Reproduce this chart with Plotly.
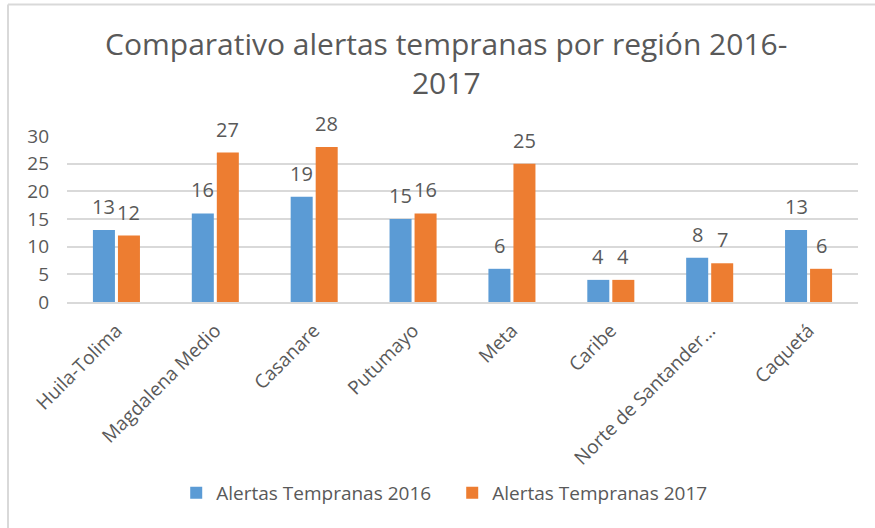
import plotly.graph_objects as go

categories = ["Huila-Tolima", "Magdalena Medio", "Casanare", "Putumayo", "Meta",
              "Caribe", "Norte de Santander…", "Caquetá"]
alertas_2016 = [13, 16, 19, 15, 6, 4, 8, 13]
alertas_2017 = [12, 27, 28, 16, 25, 4, 7, 6]
y_ticks = [0, 5, 10, 15, 20, 25, 30]

series = [
    ("Alertas Tempranas 2016", alertas_2016, "#5B9BD5", -12.5),
    ("Alertas Tempranas 2017", alertas_2017, "#ED7D31", 12.5),
]

FONT = "Open Sans"
GREY = "#595959"

fig = go.Figure()
annotations = []
for name, vals, color, shift in series:
    fig.add_trace(go.Bar(
        name=name, x=categories, y=vals,
        marker=dict(color=color, line=dict(width=0)),
    ))
    for c, v in zip(categories, vals):
        annotations.append(dict(
            x=c, y=v, xref="x", yref="y", text=str(v), showarrow=False,
            xshift=shift, yshift=8, yanchor="bottom",
            font=dict(family=FONT, size=20, color=GREY),
        ))

fig.update_layout(
    width=875, height=528,
    paper_bgcolor="white", plot_bgcolor="white",
    margin=dict(l=67, r=17, t=136, b=226, autoexpand=False),
    barmode="group", bargap=0.494, bargroupgap=0.12,
    title=dict(
        text="Comparativo alertas tempranas por región 2016-<br>2017",
        x=0.51, xanchor="center", xref="container",
        y=1 - 55 / 528, yanchor="top", yref="container",
        font=dict(family=FONT, size=30, color=GREY),
    ),
    font=dict(family=FONT, color=GREY),
    legend=dict(
        orientation="h", x=0.487, xanchor="center", y=-1.15, yanchor="middle",
        font=dict(family=FONT, size=19, color=GREY),
        itemwidth=30, traceorder="normal", entrywidth=231,
    ),
    annotations=annotations,
)

fig.update_xaxes(
    tickangle=-45, tickfont=dict(family=FONT, size=19, color=GREY),
    showline=True, linecolor="#D9D9D9", linewidth=2, ticks="",
    ticklabelstandoff=8,
)
fig.update_yaxes(
    range=[0, 30], tickvals=y_ticks, tickfont=dict(family=FONT, size=19, color=GREY),
    showgrid=True, gridcolor="#D9D9D9", gridwidth=2, zeroline=False,
    showline=False, ticklabelstandoff=17,
)

# chart frame (left and top edges visible in the reference crop)
fig.add_shape(type="line", xref="paper", yref="paper",
              x0=-59 / 791, x1=-59 / 791, y0=-1.5, y1=(302 - 4.5) / 166,
              line=dict(color="#D9D9D9", width=2))
fig.add_shape(type="line", xref="paper", yref="paper",
              x0=-59 / 791, x1=1.05, y0=(302 - 4.5) / 166, y1=(302 - 4.5) / 166,
              line=dict(color="#D9D9D9", width=2))

fig.write_html("out.html", config={"displayModeBar": False},
               post_script="document.body.style.margin='0';document.body.style.padding='0';")
